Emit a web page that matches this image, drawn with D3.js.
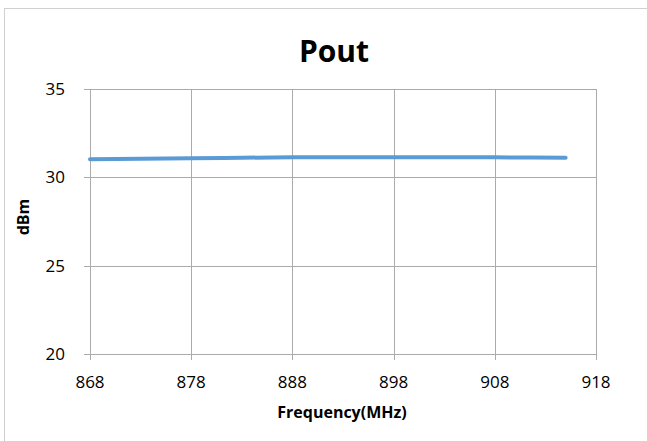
<!DOCTYPE html>
<html>
<head>
<meta charset="utf-8">
<script src="https://cdn.jsdelivr.net/npm/d3@7"></script>
<style>
  body { margin: 0; background: #fff; }
  text { font-family: "Open Sans", sans-serif; fill: #000; }
</style>
</head>
<body>
<div id="chart"></div>
<script>
// chart data
var freqs = [868, 873, 878, 883, 888, 893, 898, 903, 908, 915];
var pout = [31.02, 31.05, 31.08, 31.11, 31.13, 31.14, 31.14, 31.14, 31.13, 31.11];
var xTicks = [868, 878, 888, 898, 908, 918];
var yTicks = [20, 25, 30, 35];

var W = 647, H = 441;
var margin = {top: 89, right: 51, bottom: 87, left: 90},
    width = W - margin.left - margin.right,
    height = H - margin.top - margin.bottom;

var svg = d3.select("#chart").append("svg")
  .attr("width", W)
  .attr("height", H);

// outer chart border
svg.append("rect")
  .attr("x", 4.5).attr("y", 8.5)
  .attr("width", 700).attr("height", 500)
  .attr("fill", "none")
  .attr("stroke", "#d0d0d0")
  .attr("stroke-width", 1);

var g = svg.append("g")
  .attr("transform", "translate(" + margin.left + "," + margin.top + ")");

var x = d3.scaleLinear().domain([868, 918]).range([0, width]);
var y = d3.scaleLinear().domain([20, 35]).range([height, 0]);

// vertical grid + ticks
g.selectAll(".vgrid")
  .data(xTicks)
  .enter().append("line")
  .attr("x1", function(d) { return Math.round(x(d)) + 0.5; })
  .attr("x2", function(d) { return Math.round(x(d)) + 0.5; })
  .attr("y1", 0)
  .attr("y2", height + 6)
  .attr("stroke", "#ababab");

// horizontal grid + ticks
g.selectAll(".hgrid")
  .data(yTicks)
  .enter().append("line")
  .attr("x1", -6)
  .attr("x2", width)
  .attr("y1", function(d) { return Math.round(y(d)) + 0.5; })
  .attr("y2", function(d) { return Math.round(y(d)) + 0.5; })
  .attr("stroke", "#ababab");

// tick labels
g.selectAll(".xlab")
  .data(xTicks)
  .enter().append("text")
  .attr("x", function(d) { return x(d); })
  .attr("y", height + 34)
  .attr("text-anchor", "middle")
  .style("font-size", "17px")
  .text(function(d) { return d; });

g.selectAll(".ylab")
  .data(yTicks)
  .enter().append("text")
  .attr("x", -25)
  .attr("y", function(d) { return y(d) + 6; })
  .attr("text-anchor", "end")
  .style("font-size", "17px")
  .text(function(d) { return d; });

// the series
var line = d3.line()
  .x(function(d, i) { return x(freqs[i]); })
  .y(function(d) { return y(d); })
  .curve(d3.curveMonotoneX);

g.append("path")
  .datum(pout)
  .attr("fill", "none")
  .attr("stroke", "#5b9bd5")
  .attr("stroke-width", 4)
  .attr("stroke-linecap", "round")
  .attr("d", line);

// titles
svg.append("text")
  .attr("x", 334)
  .attr("y", 62)
  .attr("text-anchor", "middle")
  .style("font-size", "30px")
  .style("font-weight", "bold")
  .text("Pout");

svg.append("text")
  .attr("x", 342)
  .attr("y", 418)
  .attr("text-anchor", "middle")
  .style("font-size", "16px")
  .style("font-weight", "bold")
  .text("Frequency(MHz)");

svg.append("text")
  .attr("transform", "translate(29,217) rotate(-90)")
  .attr("text-anchor", "middle")
  .style("font-size", "16px")
  .style("font-weight", "bold")
  .text("dBm");
</script>
</body>
</html>
